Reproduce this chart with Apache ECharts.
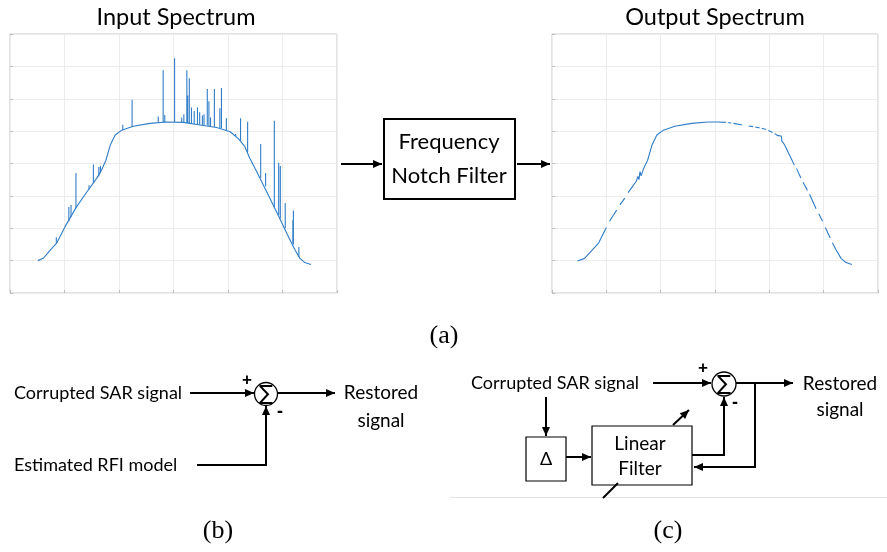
<!DOCTYPE html>
<html>
<head>
<meta charset="utf-8">
<script src="https://cdn.jsdelivr.net/npm/echarts@6/dist/echarts.min.js"></script>
<style>
  html, body { margin: 0; padding: 0; background: #fff; }
  #chart { width: 887px; height: 552px; }
</style>
</head>
<body>
<div id="chart"></div>
<script>
// ---------- data ----------
var xTicks = [0, 1, 2, 3, 4, 5, 6];
var yTicks = [0, 1, 2, 3, 4, 5, 6, 7, 8];

// baseline of the input spectrum [x, y]
var inputBaseline = [
  [0.51,1.00],[0.61,1.07],[0.73,1.31],[0.86,1.55],[1.01,2.05],[1.22,2.66],[1.41,3.12],
  [1.59,3.54],[1.68,3.80],[1.76,4.10],[1.84,4.57],[1.93,4.88],[2.05,5.03],[2.26,5.15],
  [2.57,5.24],[2.87,5.28],[3.18,5.27],[3.49,5.19],[3.79,5.11],[4.04,4.98],[4.19,4.77],
  [4.31,4.52],[4.40,4.16],[4.53,3.74],[4.71,3.13],[4.89,2.51],[5.08,1.84],[5.23,1.33],
  [5.32,1.07],[5.41,0.94],[5.52,0.88]
];

// RFI spikes [x, base, peak]
var inputSpikes = [
  [0.85,1.53,1.72],[1.08,2.22,2.66],[1.12,2.35,2.72],[1.21,2.62,3.71],[1.45,3.20,3.33],
  [1.53,3.40,3.97],[1.63,3.60,3.89],[1.66,3.70,3.92],[2.07,5.03,5.20],[2.24,5.14,5.97],
  [2.72,5.26,5.45],[2.81,5.27,6.88],[2.84,5.27,5.50],[3.02,5.28,7.25],[3.15,5.27,5.42],
  [3.19,5.27,5.52],[3.245,5.25,6.88],[3.26,5.25,6.10],[3.29,5.24,6.63],[3.33,5.23,5.73],
  [3.38,5.22,5.62],[3.44,5.21,5.73],[3.48,5.20,5.58],[3.53,5.19,5.48],[3.56,5.18,5.52],
  [3.62,5.17,6.30],[3.65,5.16,5.92],[3.68,5.15,5.42],[3.75,5.13,6.30],[3.85,5.10,5.71],
  [3.88,5.09,6.33],[3.97,5.03,5.40],[4.14,4.84,4.91],[4.23,4.70,5.40],[4.36,4.35,5.29],
  [4.60,3.55,4.60],[4.69,3.30,3.71],[4.85,2.65,5.32],[4.93,2.40,4.02],[4.96,2.30,3.92],
  [5.05,2.00,2.78],[5.19,1.52,2.25],[5.20,1.50,2.55],[5.30,1.12,1.42]
];

// output spectrum (null = notched gap)
var outputSpectrum = [
  [0.47,0.99],[0.60,1.07],[0.73,1.31],[0.86,1.55],[1.00,2.02], null,
  [1.06,2.22],[1.12,2.38],[1.19,2.56], null,
  [1.25,2.72],[1.34,2.93], null,
  [1.40,3.10],[1.50,3.33],[1.55,3.45],[1.58,3.60],[1.60,3.50],[1.62,3.75],[1.64,3.62],
  [1.68,3.82],[1.76,4.10],[1.84,4.57],[1.93,4.88],[2.05,5.03],[2.26,5.15],[2.57,5.24],
  [2.87,5.28],[3.05,5.28],[3.20,5.27], null,
  [3.24,5.26],[3.30,5.25], null,
  [3.34,5.24],[3.50,5.19], null,
  [3.62,5.16],[3.70,5.14], null,
  [3.74,5.13],[3.82,5.10], null,
  [3.86,5.09],[3.94,5.05], null,
  [3.98,5.02],[4.06,4.96], null,
  [4.10,4.92],[4.16,4.86],[4.19,4.80],[4.22,4.85],[4.23,4.70],[4.28,4.58],
  [4.31,4.52],[4.40,4.16],[4.46,3.95], null,
  [4.50,3.85],[4.58,3.55], null,
  [4.62,3.42],[4.70,3.17], null,
  [4.74,3.05],[4.86,2.60], null,
  [4.91,2.45],[4.98,2.22], null,
  [5.03,2.02],[5.12,1.70], null,
  [5.16,1.55],[5.23,1.33],[5.32,1.07],[5.41,0.94],[5.52,0.88]
];

// ---------- build ----------
var BLUE = '#2f7dc8';
var FONT = 'Lato, "Liberation Sans", sans-serif';
var SERIF = '"Liberation Serif", "DejaVu Serif", serif';
var SANS = '"Liberation Sans", sans-serif';

function gapData(arr) {
  return arr.map(function (p) { return p === null ? ['-', '-'] : p; });
}
function spikeData(arr) {
  var out = [];
  arr.forEach(function (s) { out.push([s[0], s[1]], [s[0], s[2]], ['-', '-']); });
  return out;
}

function axisX(gi) {
  return {
    type: 'value', gridIndex: gi, min: xTicks[0], max: xTicks[xTicks.length - 1], interval: 1,
    axisLabel: { show: false }, axisLine: { show: false },
    axisTick: { show: true, inside: true, length: 3, lineStyle: { color: '#bdbdbd' } },
    splitLine: { show: true, lineStyle: { color: '#ececec', width: 1 } }
  };
}
function axisY(gi) {
  return {
    type: 'value', gridIndex: gi, min: yTicks[0], max: yTicks[yTicks.length - 1], interval: 1,
    axisLabel: { show: false }, axisLine: { show: false },
    axisTick: { show: true, inside: true, length: 3, lineStyle: { color: '#bdbdbd' } },
    splitLine: { show: true, lineStyle: { color: '#ececec', width: 1 } }
  };
}

// diagram helpers
var G = [];
var K = '#000';
function txt(s, x, y, size, align, family, weight) {
  G.push({ type: 'text', x: x, y: y, silent: true,
    style: { text: s, font: (weight || 'normal') + ' ' + size + 'px ' + (family || FONT), fill: K,
      textAlign: align || 'center', textVerticalAlign: 'middle' } });
}
function head(x1, y1, x2, y2, L, W) {
  L = L || 9; W = W || 4;
  var dx = x2 - x1, dy = y2 - y1, d = Math.sqrt(dx * dx + dy * dy);
  var ux = dx / d, uy = dy / d, bx = x2 - ux * L, by = y2 - uy * L;
  G.push({ type: 'polygon', silent: true,
    shape: { points: [[x2, y2], [bx - uy * W, by + ux * W], [bx + uy * W, by - ux * W]] },
    style: { fill: K } });
}
function pline(pts, lw, arrow) {
  G.push({ type: 'polyline', silent: true, shape: { points: pts },
    style: { stroke: K, lineWidth: lw || 2, fill: null } });
  if (arrow) {
    var a = pts[pts.length - 2], b = pts[pts.length - 1];
    head(a[0], a[1], b[0], b[1]);
  }
}
function box(x, y, w, h, lw) {
  G.push({ type: 'rect', silent: true, shape: { x: x, y: y, width: w, height: h },
    style: { fill: '#fff', stroke: K, lineWidth: lw || 1.5 } });
}
function sum(cx, cy, r) {
  G.push({ type: 'circle', silent: true, shape: { cx: cx, cy: cy, r: r },
    style: { fill: '#fff', stroke: K, lineWidth: 1.3 } });
  txt('\u2211', cx, cy + 1, 21, 'center', '"DejaVu Sans", sans-serif');
}

// titles
txt('Input Spectrum', 176, 17, 23.5);
txt('Output Spectrum', 715, 17, 23.5);
// (a) notch filter
pline([[341, 164], [382, 164]], 2, true);
box(384, 119, 131, 80, 2);
txt('Frequency', 449, 142, 22);
txt('Notch Filter', 449, 176, 22);
pline([[517, 164], [550, 164]], 2, true);
txt('(a)', 444, 336, 26, 'center', SERIF);

// (b)
txt('Corrupted SAR signal', 14, 393, 18, 'left');
pline([[190, 393], [254, 393]], 2, true);
txt('+', 247, 380, 17, 'center', SANS, 'bold');
pline([[197, 465], [266, 465], [266, 406]], 2, true);
sum(266, 394, 11.5);
txt('-', 280, 412, 18, 'center', SANS, 'bold');
pline([[278, 393], [335, 393]], 2, true);
txt('Restored', 381, 393, 19);
txt('signal', 381, 421, 19);
txt('Estimated RFI model', 14, 465, 18, 'left');
txt('(b)', 218, 531, 26, 'center', SERIF);

// (c)
G.push({ type: 'line', silent: true, shape: { x1: 450, y1: 497.5, x2: 887, y2: 497.5 },
  style: { stroke: '#e2e2e2', lineWidth: 1 } });
txt('Corrupted SAR signal', 471, 383, 18, 'left');
pline([[653, 383], [711, 383]], 2, true);
txt('+', 703, 368, 17, 'center', SANS, 'bold');
pline([[546, 397], [546, 436]], 2, true);
box(526, 437, 40, 44, 1.2);
txt('\u0394', 546, 459, 18);
pline([[566, 457], [591, 457]], 2, true);
box(592, 426, 100, 59, 1.2);
txt('Linear', 640, 444, 19);
txt('Filter', 640, 469, 19);
pline([[692, 455], [724, 455], [724, 397]], 2, true);
pline([[736, 383], [755, 383], [755, 467], [694, 467]], 2, true);
pline([[755, 383], [793, 383]], 2, true);
sum(724, 384, 12);
txt('-', 735, 403, 18, 'center', SANS, 'bold');
pline([[673, 425], [689, 410]], 2, true);
pline([[603, 498], [618, 483]], 2, false);
txt('Restored', 840, 384, 19);
txt('signal', 840, 410, 19);
txt('(c)', 668, 531, 26, 'center', SERIF);

var chart = echarts.init(document.getElementById('chart'), null, { renderer: 'canvas' });
chart.setOption({
  animation: false,
  backgroundColor: '#fff',
  grid: [
    { left: 10, top: 34, width: 327, height: 259, show: true, borderColor: '#c6c6c6', borderWidth: 1, backgroundColor: 'transparent' },
    { left: 552, top: 34, width: 326, height: 259, show: true, borderColor: '#c6c6c6', borderWidth: 1, backgroundColor: 'transparent' }
  ],
  xAxis: [axisX(0), axisX(1)],
  yAxis: [axisY(0), axisY(1)],
  series: [
    { type: 'line', xAxisIndex: 0, yAxisIndex: 0, data: inputBaseline, showSymbol: false, symbol: 'none',
      lineStyle: { color: BLUE, width: 1.1 }, silent: true },
    { type: 'line', xAxisIndex: 0, yAxisIndex: 0, data: spikeData(inputSpikes), showSymbol: false, symbol: 'none',
      connectNulls: false, lineStyle: { color: BLUE, width: 1.1 }, silent: true },
    { type: 'line', xAxisIndex: 1, yAxisIndex: 1, data: gapData(outputSpectrum), showSymbol: false, symbol: 'none',
      connectNulls: false, lineStyle: { color: BLUE, width: 1.1 }, silent: true }
  ],
  graphic: { elements: G }
});
</script>
</body>
</html>
